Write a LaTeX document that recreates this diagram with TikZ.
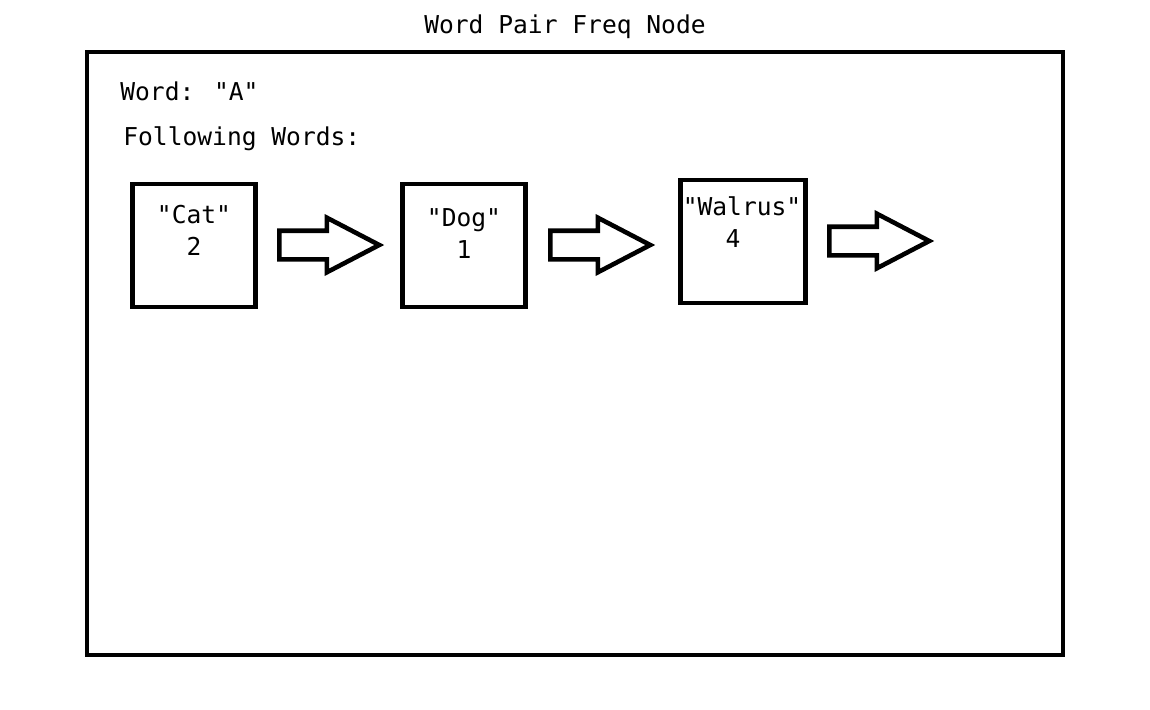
\documentclass[tikz,border=0pt]{standalone}
\usepackage{fontspec}
\setmainfont{DejaVu Sans Mono}[Ligatures=TeXOff]
\usetikzlibrary{shapes.arrows}

\begin{document}
\begin{tikzpicture}[x=0.02cm,y=-0.02cm,
  txt/.style={anchor=base,inner sep=0pt,font=\fontsize{14}{17}\selectfont},
  wordbox/.style={draw,line width=2.6pt,minimum width=2.46cm,minimum height=2.46cm,inner sep=0pt},
  fatarrow/.style={draw,line width=2.6pt,shape=single arrow,anchor=tail,minimum height=2.0cm,
                   inner xsep=0pt,inner ysep=0.24cm,single arrow head extend=0.26cm,
                   single arrow tip angle=55}]
\useasboundingbox (0,0) rectangle (1150,710);
% outer frame
\draw [line width=2.6pt] (87,52) rectangle (1063,655);
\path node (title) at (565,33) [txt] {Word Pair Freq Node}
      node (word) at (120,100) [txt,anchor=base west] {Word: "A"}
      node (follow) at (123,145) [txt,anchor=base west] {Following Words:};
% the list
\path node (cat) at (194,245.5) [wordbox] {}
      node (dog) at (464,245.5) [wordbox] {}
      node (walrus) at (743,241.5) [wordbox,minimum width=2.5cm] {};
\path node (catw) at (194,223) [txt] {"Cat"}
      node (catn) at (194,255) [txt] {2}
      node (dogw) at (464,226) [txt] {"Dog"}
      node (dogn) at (464,258) [txt] {1}
      node (walrusw) at (742,215) [txt] {"Walrus"}
      node (walrusn) at (733,247) [txt] {4};
\path node (a1) at (277,245) [fatarrow] {}
      node (a2) at (548,245) [fatarrow] {}
      node (a3) at (827,241) [fatarrow] {};
\end{tikzpicture}
\end{document}
